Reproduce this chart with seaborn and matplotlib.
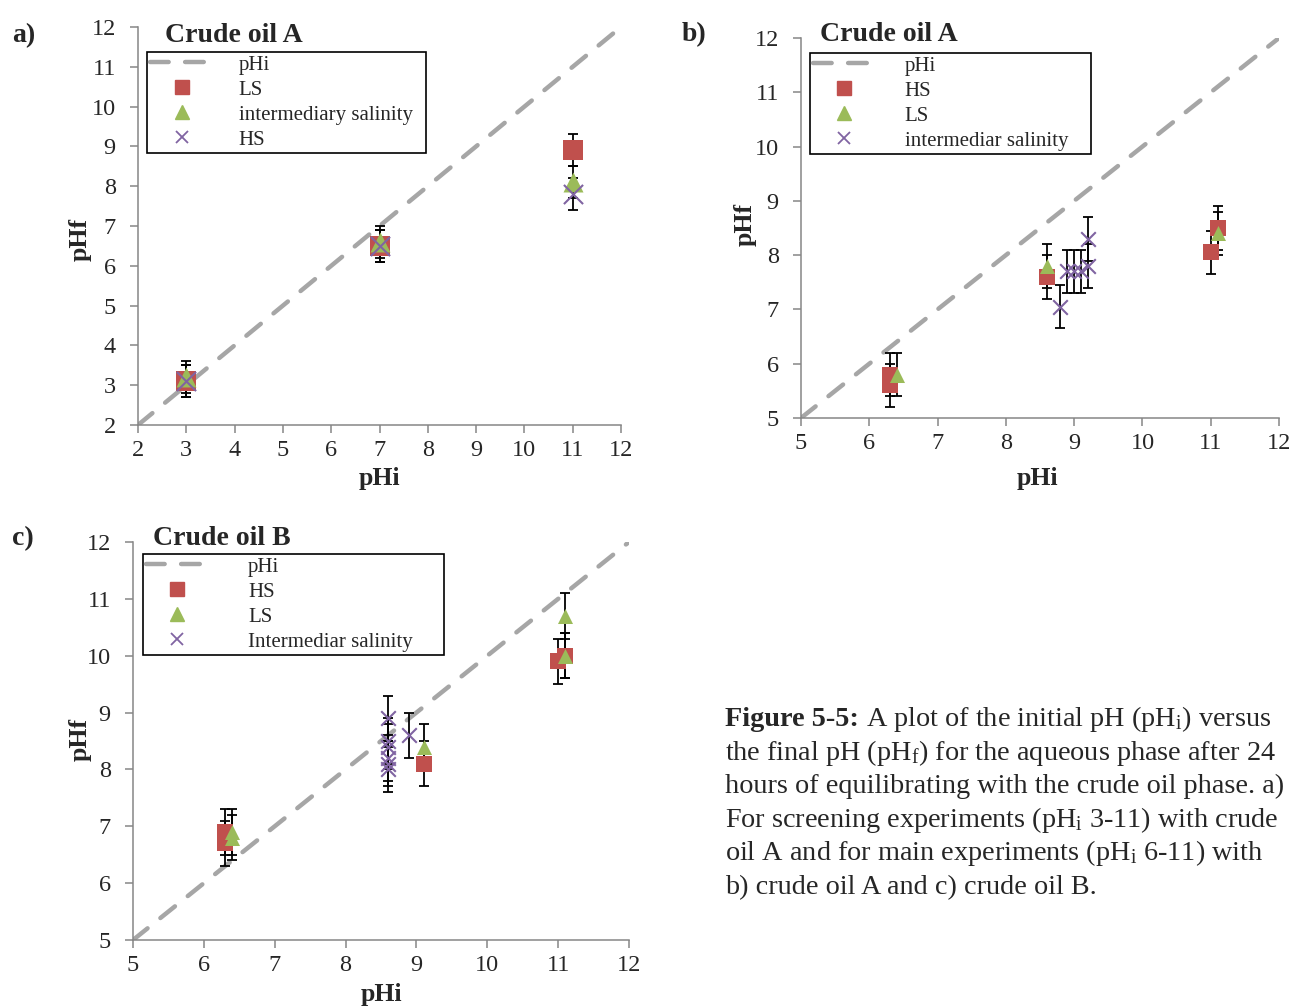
import matplotlib
matplotlib.use("Agg")
import matplotlib.pyplot as plt
from matplotlib.lines import Line2D
import seaborn as sns

# ---- values ----
# a) crude oil A, screening runs
a_phi = [3, 7, 11]
a_ls = [3.1, 6.5, 8.9]
a_int = [3.2, 6.6, 8.1]
a_hs = [3.1, 6.5, 7.8]

# b) crude oil A, main runs
b_hs_x = [6.3, 6.3, 8.6, 11.0, 11.1]
b_hs_y = [5.6, 5.8, 7.6, 8.05, 8.5]
b_ls_x = [6.4, 8.6, 11.1]
b_ls_y = [5.8, 7.8, 8.4]
b_int_x = [8.8, 8.9, 9.0, 9.1, 9.2, 9.2]
b_int_y = [7.05, 7.7, 7.7, 7.7, 8.3, 7.8]

# c) crude oil B
c_hs_x = [6.3, 6.3, 9.1, 11.0, 11.1]
c_hs_y = [6.9, 6.7, 8.1, 9.9, 10.0]
c_ls_x = [6.4, 6.4, 9.1, 11.1, 11.1]
c_ls_y = [6.9, 6.8, 8.4, 10.7, 10.0]
c_int_x = [8.6, 8.6, 8.6, 8.6, 8.6, 8.6, 8.9]
c_int_y = [8.9, 8.5, 8.4, 8.2, 8.1, 8.0, 8.6]

ph_err = 0.4          # error bar half width (pH units)
diag_a = [2, 12]      # pHi = pHf reference line
diag_bc = [5, 12]

RED = "#C0504D"
GREEN = "#9BBB59"
PURPLE = "#8064A2"
GREY = "#A6A6A6"
SPINE = "#868686"
DASH = (0, (4.2, 3.7))

sns.set_style("ticks")
plt.rcParams["font.family"] = ["Liberation Serif", "DejaVu Serif"]
plt.rcParams["mathtext.fontset"] = "custom"
plt.rcParams["mathtext.rm"] = "Liberation Serif"
plt.rcParams["mathtext.it"] = "Liberation Serif:italic"
plt.rcParams["mathtext.bf"] = "Liberation Serif:bold"

W, H = 1293, 1007
fig = plt.figure(figsize=(W / 100, H / 100), dpi=100)


def px(x, y):
    return x / W, 1 - y / H


def make_axes(l, t, r, b):
    return fig.add_axes([l / W, 1 - b / H, (r - l) / W, (b - t) / H])


def series(ax, x, y, marker, color, size):
    ax.errorbar(x, y, yerr=ph_err, fmt="none", ecolor="black", elinewidth=1.3,
                capsize=3.8, capthick=1.3, zorder=2)
    if marker == "x":
        sns.scatterplot(x=x, y=y, marker="x", s=size, color=color, linewidth=1.5,
                        ax=ax, zorder=3)
    else:
        sns.scatterplot(x=x, y=y, marker=marker, s=size, color=color,
                        edgecolor=color, linewidth=0, ax=ax, zorder=3)


def style_axes(ax, lo, xlab_pos, ylab_pos):
    ax.set_xlim(lo, 12)
    ax.set_ylim(lo, 12)
    ax.set_xticks(range(lo, 13))
    ax.set_yticks(range(lo, 13))
    sns.despine(ax=ax)
    for s in ("left", "bottom"):
        ax.spines[s].set_color(SPINE)
        ax.spines[s].set_linewidth(1.1)
    ax.tick_params(direction="out", length=6, width=1.1, color=SPINE, labelsize=17.5)
    ax.tick_params(axis="x", pad=5)
    ax.tick_params(axis="y", pad=10)
    ax.set_xlabel("pHi", fontweight="bold", fontsize=18.5)
    ax.set_ylabel("pHf", fontweight="bold", fontsize=18.5)
    ax.xaxis.set_label_coords(*xlab_pos)
    ax.yaxis.set_label_coords(*ylab_pos)
    ax.xaxis.label.set_va("center")
    ax.yaxis.label.set_va("center")


def legend(ax, labels, markers, colors, bbox, textpad):
    handles = [Line2D([], [], color=GREY, lw=3.2, linestyle=DASH, dash_capstyle="round")]
    for m, c in zip(markers, colors):
        if m == "x":
            handles.append(Line2D([], [], ls="none", marker="x", color=c,
                                  markersize=9, mew=1.3))
        else:
            handles.append(Line2D([], [], ls="none", marker=m, color=c, mec=c,
                                  markersize=9.5))
    leg = ax.legend(handles, ["pHi"] + labels, loc="upper left", bbox_to_anchor=bbox,
                    mode="expand", borderaxespad=0, fontsize=15, frameon=True,
                    fancybox=False, framealpha=1, edgecolor="black",
                    handlelength=3.0, handletextpad=textpad, borderpad=0.15,
                    labelspacing=0.26)
    leg.get_frame().set_linewidth(1.2)


# ---- a) ----
ax_a = make_axes(138, 27, 621, 425)
sns.lineplot(x=diag_a, y=diag_a, color=GREY, linewidth=3.2, linestyle=DASH,
             dash_capstyle="round", ax=ax_a, zorder=1)
series(ax_a, a_phi, a_ls, "s", RED, 207)
series(ax_a, a_phi, a_int, "^", GREEN, 207)
series(ax_a, a_phi, a_hs, "x", PURPLE, 190)
style_axes(ax_a, 2, (0.501, -0.135), (-0.120, 0.465))
legend(ax_a, ["LS", "intermediary salinity", "HS"], ["s", "^", "x"],
       [RED, GREEN, PURPLE], (0.019, 0.686, 0.577, 0.251), 1.25)

# ---- b) ----
ax_b = make_axes(801, 38, 1279, 418)
sns.lineplot(x=diag_bc, y=diag_bc, color=GREY, linewidth=3.2, linestyle=DASH,
             dash_capstyle="round", ax=ax_b, zorder=1)
series(ax_b, b_hs_x, b_hs_y, "s", RED, 117)
series(ax_b, b_ls_x, b_ls_y, "^", GREEN, 117)
series(ax_b, b_int_x, b_int_y, "x", PURPLE, 110)
style_axes(ax_b, 5, (0.494, -0.159), (-0.117, 0.508))
legend(ax_b, ["HS", "LS", "intermediar salinity"], ["s", "^", "x"],
       [RED, GREEN, PURPLE], (0.019, 0.692, 0.588, 0.269), 1.4)

# ---- c) ----
ax_c = make_axes(133, 542, 629, 940)
sns.lineplot(x=diag_bc, y=diag_bc, color=GREY, linewidth=3.2, linestyle=DASH,
             dash_capstyle="round", ax=ax_c, zorder=1)
series(ax_c, c_hs_x, c_hs_y, "s", RED, 117)
series(ax_c, c_ls_x, c_ls_y, "^", GREEN, 117)
series(ax_c, c_int_x, c_int_y, "x", PURPLE, 110)
style_axes(ax_c, 5, (0.5, -0.137), (-0.107, 0.503))
legend(ax_c, ["HS", "LS", "Intermediar salinity"], ["s", "^", "x"],
       [RED, GREEN, PURPLE], (0.02, 0.711, 0.607, 0.259), 1.9)

# ---- panel letters and titles ----
for txt, x, y in [("a)", 12, 41.7), ("b)", 682, 40.7), ("c)", 12, 545)]:
    fig.text(*px(x, y), txt, fontweight="bold", fontsize=20, va="baseline")
for txt, x, y in [("Crude oil A", 165, 41.7), ("Crude oil A", 820, 40.7),
                  ("Crude oil B", 153, 545)]:
    fig.text(*px(x, y), txt, fontweight="bold", fontsize=20, va="baseline")

# ---- caption ----
cap_lines = [
    " A plot of the initial pH (pH$_\\mathrm{i}$) versus",
    "the final pH (pH$_\\mathrm{f}$) for the aqueous phase after 24",
    "hours of equilibrating with the crude oil phase. a)",
    "For screening experiments (pH$_\\mathrm{i}$ 3-11) with crude",
    "oil A and for main experiments (pH$_\\mathrm{i}$ 6-11) with",
    "b) crude oil A and c) crude oil B.",
]
cap_x = 725
cap_size = 20.3
cap_base = [726, 759.6, 793.2, 826.8, 860.4, 894]
head = fig.text(*px(cap_x, cap_base[0]), "Figure 5-5:", fontweight="bold",
                fontsize=cap_size, va="baseline")
fig.canvas.draw()
head_end = head.get_window_extent().x1
fig.text(head_end / W, 1 - cap_base[0] / H, cap_lines[0], fontsize=cap_size,
         va="baseline")
for line, yb in zip(cap_lines[1:], cap_base[1:]):
    fig.text(*px(cap_x, yb), line, fontsize=cap_size, va="baseline")

fig.savefig("out.png", dpi=100)
